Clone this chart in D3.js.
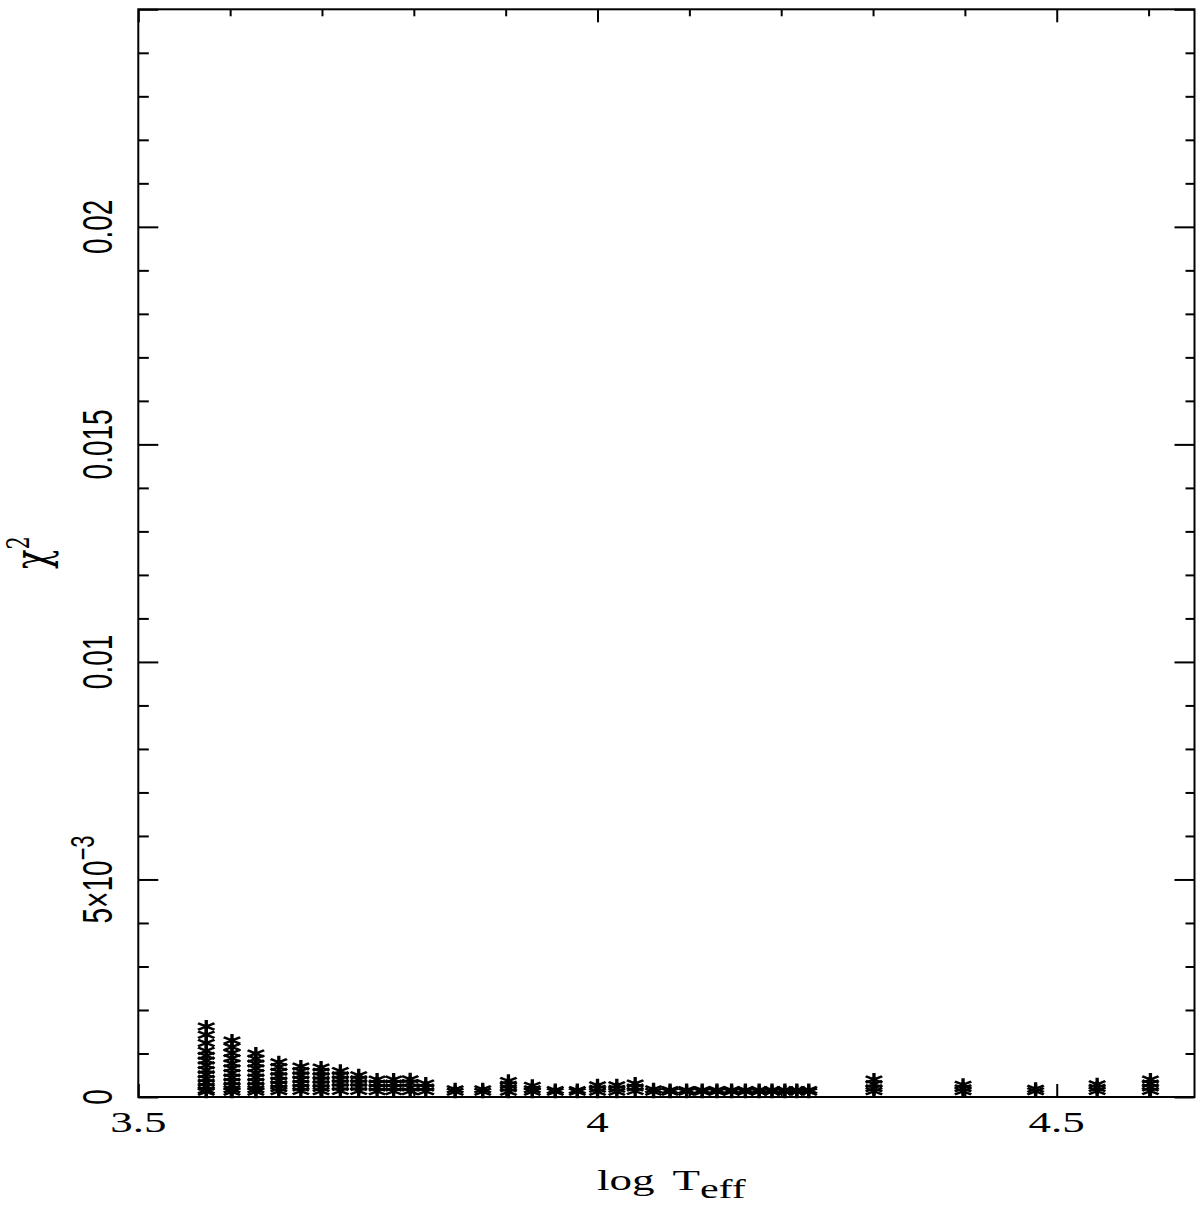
<!DOCTYPE html>
<html><head><meta charset="utf-8">
<script src="https://cdn.jsdelivr.net/npm/d3@7"></script>
<style>body{margin:0;background:#fff}svg{display:block;background:#fff}</style>
</head><body><svg id="c" width="1200" height="1210"></svg>
<script>
// Column positions (log Teff)
const logTeff = [3.574, 3.602, 3.628, 3.653, 3.677, 3.699, 3.720, 3.740, 3.760, 3.778, 3.796, 3.813,
  3.845, 3.875, 3.903, 3.929, 3.954, 3.978, 4.000, 4.021, 4.041, 4.061, 4.079, 4.097, 4.114, 4.130,
  4.146, 4.161, 4.176, 4.190, 4.204, 4.217, 4.230, 4.301, 4.398, 4.477, 4.544, 4.602];
// chi^2 values of the stacked points in each column
const chi2 = [
  [0.00162, 0.00143, 0.00124, 0.00106, 0.00095, 0.00084, 0.00073, 0.00062, 0.00052, 0.00042, 0.00033, 0.00024, 0.00016, 0.00012],
  [0.00130, 0.00115, 0.00101, 0.00089, 0.00077, 0.00066, 0.00055, 0.00045, 0.00035, 0.00026, 0.00018, 0.00012],
  [0.00100, 0.00088, 0.00077, 0.00066, 0.00055, 0.00045, 0.00035, 0.00026, 0.00018, 0.00012],
  [0.00080, 0.00069, 0.00058, 0.00048, 0.00038, 0.00029, 0.00020, 0.00013],
  [0.00070, 0.00060, 0.00050, 0.00040, 0.00031, 0.00022, 0.00014],
  [0.00068, 0.00058, 0.00048, 0.00039, 0.00030, 0.00021, 0.00013],
  [0.00060, 0.00050, 0.00041, 0.00032, 0.00023, 0.00014],
  [0.00050, 0.00041, 0.00032, 0.00023, 0.00014],
  [0.00040, 0.00031, 0.00022, 0.00013],
  [0.00040, 0.00031, 0.00022, 0.00013],
  [0.00041, 0.00032, 0.00022, 0.00013],
  [0.00031, 0.00022, 0.00013],
  [0.00018, 0.00012],
  [0.00018, 0.00012],
  [0.00037, 0.00028, 0.00020, 0.00012],
  [0.00026, 0.00018, 0.00012],
  [0.00016, 0.00012],
  [0.00016, 0.00012],
  [0.00027, 0.00019, 0.00012],
  [0.00027, 0.00019, 0.00012],
  [0.00031, 0.00022, 0.00014],
  [0.00018, 0.00012],
  [0.00016, 0.00012],
  [0.00016, 0.00012],
  [0.00016, 0.00012],
  [0.00016, 0.00012],
  [0.00016, 0.00012],
  [0.00016, 0.00012],
  [0.00016, 0.00012],
  [0.00016, 0.00012],
  [0.00016, 0.00012],
  [0.00016, 0.00012],
  [0.00016, 0.00012],
  [0.00040, 0.00030, 0.00020, 0.00013],
  [0.00028, 0.00020, 0.00013],
  [0.00019, 0.00013],
  [0.00029, 0.00021, 0.00014],
  [0.00040, 0.00031, 0.00022, 0.00014]
];
const xMajorTicks = [3.5, 4.0, 4.5];
const xTickLabels = ["3.5", "4", "4.5"];
const xMinorTicks = [3.6, 3.7, 3.8, 3.9, 4.1, 4.2, 4.3, 4.4, 4.6];
const yMajorTicks = [0, 0.005, 0.01, 0.015, 0.02, 0.025];
const yLabelTicks = [0, 0.005, 0.01, 0.015, 0.02];
const yTickLabels = ["0", "5×10^−3", "0.01", "0.015", "0.02"];
const yMinorTicks = [0.001, 0.002, 0.003, 0.004, 0.006, 0.007, 0.008, 0.009, 0.011, 0.012, 0.013, 0.014,
  0.016, 0.017, 0.018, 0.019, 0.021, 0.022, 0.023, 0.024];

const svg = d3.select("#c");
const L = 138.3, R = 1194.5, T = 9.3, B = 1097;
const x = d3.scaleLinear().domain([3.5, 4.65]).range([L, R]);
const y = d3.scaleLinear().domain([0, 0.025]).range([B, T]);

function styleAxis(g) {
  g.select(".domain").remove();
  g.selectAll(".tick line").attr("stroke", "#000").attr("stroke-width", 2);
  g.selectAll(".tick text").remove();
}
svg.append("g").attr("transform", `translate(0,${B})`).call(d3.axisBottom(x).tickValues(xMajorTicks).tickSize(-13).tickFormat("")).call(styleAxis);
svg.append("g").attr("transform", `translate(0,${B})`).call(d3.axisBottom(x).tickValues(xMinorTicks).tickSize(-7).tickFormat("")).call(styleAxis);
svg.append("g").attr("transform", `translate(0,${T})`).call(d3.axisTop(x).tickValues(xMajorTicks).tickSize(-13).tickFormat("")).call(styleAxis);
svg.append("g").attr("transform", `translate(0,${T})`).call(d3.axisTop(x).tickValues(xMinorTicks).tickSize(-7).tickFormat("")).call(styleAxis);
svg.append("g").attr("transform", `translate(${L},0)`).call(d3.axisLeft(y).tickValues(yMajorTicks).tickSize(-20).tickFormat("")).call(styleAxis);
svg.append("g").attr("transform", `translate(${L},0)`).call(d3.axisLeft(y).tickValues(yMinorTicks).tickSize(-10.5).tickFormat("")).call(styleAxis);
svg.append("g").attr("transform", `translate(${R},0)`).call(d3.axisRight(y).tickValues(yMajorTicks).tickSize(-20).tickFormat("")).call(styleAxis);
svg.append("g").attr("transform", `translate(${R},0)`).call(d3.axisRight(y).tickValues(yMinorTicks).tickSize(-9).tickFormat("")).call(styleAxis);

svg.append("rect").attr("x", L).attr("y", T).attr("width", R - L).attr("height", B - T)
  .attr("fill", "none").attr("stroke", "#000").attr("stroke-width", 2);

// points
const star = d3.symbol(d3.symbolAsterisk, 120)();
const pts = [];
logTeff.forEach((t, i) => chi2[i].forEach(v => pts.push([t, v])));
svg.append("g").selectAll("path").data(pts).join("path")
  .attr("d", star)
  .attr("transform", d => `translate(${x(d[0])},${y(d[1])}) scale(1.45,1)`)
  .attr("fill", "none").attr("stroke", "#000").attr("stroke-width", 2.3);

// x tick labels (serif, horizontally stretched like the reference)
svg.append("g").selectAll("text").data(xMajorTicks).join("text")
  .attr("transform", d => `translate(${x(d)},1132) scale(1.5,1)`)
  .attr("text-anchor", "middle")
  .attr("font-family", "Liberation Serif, serif").attr("font-size", 30).attr("fill", "#000")
  .text((d, i) => xTickLabels[i]);

// y tick labels (sans, rotated)
const yl = svg.append("g").selectAll("text").data(yLabelTicks).join("text")
  .attr("transform", d => `translate(112,${y(d)}) scale(1.5,1) rotate(-90)`)
  .attr("text-anchor", "middle")
  .attr("font-family", "Liberation Sans, Arial, sans-serif").attr("font-size", 28).attr("fill", "#000");
yl.each(function (d, i) {
  const parts = yTickLabels[i].split("^");
  const t = d3.select(this);
  t.append("tspan").text(parts[0]);
  if (parts[1]) t.append("tspan").attr("dy", -12).attr("font-size", 22).text(parts[1]);
});

// y axis title chi^2
const yt = svg.append("text")
  .attr("transform", "translate(48,569) scale(1.5,1) rotate(-90)")
  .attr("font-family", "DejaVu Serif, serif").attr("font-size", 32).attr("fill", "#000");
yt.append("tspan").text("χ");
yt.append("tspan").attr("dy", -13).attr("font-size", 21).text("2");

// x axis title
const xt = svg.append("text")
  .attr("transform", "translate(597,1190) scale(1.5,1)")
  .attr("font-family", "Liberation Serif, serif").attr("font-size", 30).attr("fill", "#000");
xt.append("tspan").text("log");
xt.append("tspan").attr("dx", 12).text("T");
xt.append("tspan").attr("dx", 0).attr("dy", 8).attr("font-size", 28).text("eff");
</script></body></html>
